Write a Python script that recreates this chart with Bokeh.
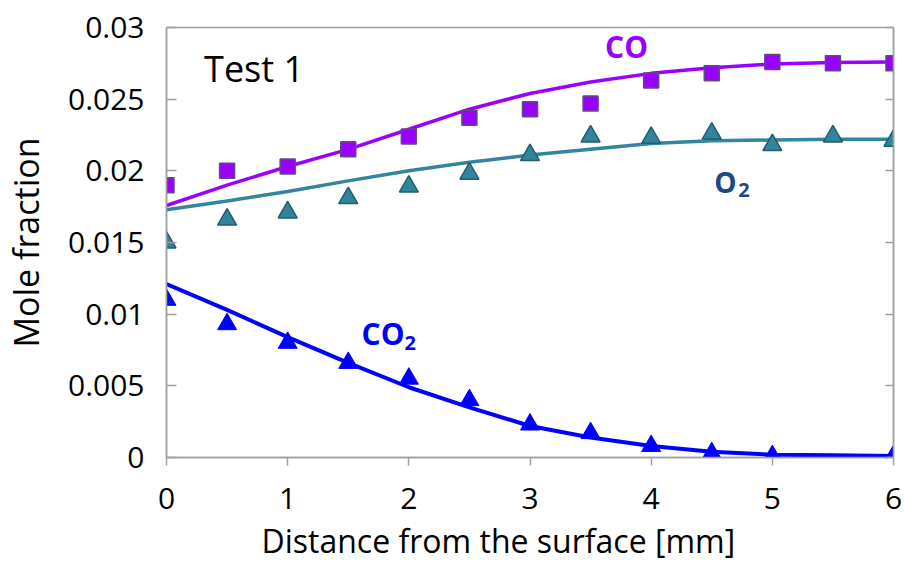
from bokeh.plotting import figure
from bokeh.models import (Range1d, LinearAxis, FixedTicker, CustomJSTickFormatter,
                          Label, Title, ColumnDataSource)
from bokeh.embed import file_html
from bokeh.resources import INLINE

# Measured mole fractions (markers)
x_meas = [0, 0.5, 1, 1.5, 2, 2.5, 3, 3.5, 4, 4.5, 5, 5.5, 6]
co_meas = [0.0190, 0.0200, 0.0203, 0.0215, 0.0224, 0.0237, 0.0243,
           0.0247, 0.0263, 0.0268, 0.0276, 0.0275, 0.0275]
o2_meas = [0.0150, 0.0166, 0.0171, 0.0181, 0.0189, 0.0198, 0.0211,
           0.0224, 0.0223, 0.0226, 0.0218, 0.0224, 0.0221]
x_co2_meas = [0, 0.5, 1, 1.5, 2, 2.5, 3, 3.5, 4, 4.5, 5, 6]
co2_meas = [0.0110, 0.0093, 0.0080, 0.0066, 0.0055, 0.0040, 0.0023,
            0.0017, 0.0008, 0.0003, 0.0001, 0.0001]

# Model profiles (solid curves)
x_model = [0, 0.5, 1, 1.5, 2, 2.5, 3, 3.5, 4, 4.5, 5, 5.5, 6]
co_model = [0.01758, 0.0190, 0.0203, 0.0215, 0.0229, 0.0243, 0.0254,
            0.0262, 0.0268, 0.0272, 0.02745, 0.02755, 0.0276]
o2_model = [0.01728, 0.0179, 0.01856, 0.0193, 0.0200, 0.0206, 0.0211,
            0.0215, 0.0219, 0.0221, 0.02215, 0.0222, 0.0222]
co2_model = [0.0121, 0.0103, 0.0084, 0.0066, 0.0049, 0.0035, 0.0022,
             0.0014, 0.0008, 0.0004, 0.0002, 0.00015, 0.0001]

x_ticks = [0, 1, 2, 3, 4, 5, 6]
y_ticks = [0, 0.005, 0.01, 0.015, 0.02, 0.025, 0.03]
x_title = "Distance from the surface [mm]"
y_title = "Mole fraction"

FONT = "Open Sans"
AXIS_GRAY = "#A0A0A0"

p = figure(width=904, height=566, output_backend="svg", toolbar_location=None,
           x_range=Range1d(0, 6), y_range=Range1d(0, 0.03),
           min_border_left=163, min_border_right=11,
           min_border_top=27, min_border_bottom=109)
p.background_fill_color = "white"
p.border_fill_color = "white"
p.grid.visible = False
p.outline_line_color = AXIS_GRAY
p.outline_line_width = 1.5

# Bottom axis
xa = p.xaxis[0]
xa.ticker = FixedTicker(ticks=x_ticks)
xa.major_label_text_font = FONT
xa.major_label_text_font_size = "30px"
xa.major_label_text_color = "black"
xa.major_label_standoff = 22
xa.major_tick_in = 0
xa.major_tick_out = 8
xa.minor_tick_line_color = None
xa.axis_line_color = AXIS_GRAY
xa.axis_line_width = 1.5
xa.major_tick_line_color = AXIS_GRAY
xa.major_tick_line_width = 1.5

# Horizontal axis title, set slightly left of the frame centre
p.add_layout(Title(text=x_title, align="left", offset=95, text_font=FONT,
                   text_font_size="32px", text_font_style="normal",
                   text_color="black", standoff=10), "below")

# Left axis
ya = p.yaxis[0]
ya.ticker = FixedTicker(ticks=y_ticks)
ya.formatter = CustomJSTickFormatter(code="return Number(tick.toFixed(3)).toString();")
ya.axis_label = y_title
ya.axis_label_text_font = FONT
ya.axis_label_text_font_size = "34px"
ya.axis_label_text_font_style = "normal"
ya.axis_label_text_color = "black"
ya.axis_label_standoff = 16
ya.major_label_text_font = FONT
ya.major_label_text_font_size = "30px"
ya.major_label_text_color = "black"
ya.major_label_standoff = 22
ya.major_tick_in = 10
ya.major_tick_out = 0
ya.minor_tick_line_color = None
ya.axis_line_color = AXIS_GRAY
ya.axis_line_width = 1.5
ya.major_tick_line_color = AXIS_GRAY
ya.major_tick_line_width = 1.5

# Right-hand tick marks on the frame
ra = LinearAxis(ticker=FixedTicker(ticks=y_ticks),
                formatter=CustomJSTickFormatter(code="return '';"))
ra.major_tick_in = 8
ra.major_tick_out = 0
ra.major_label_standoff = 0
ra.major_label_text_font_size = "0px"
ra.minor_tick_line_color = None
ra.axis_line_color = AXIS_GRAY
ra.axis_line_width = 1.5
ra.major_tick_line_color = AXIS_GRAY
ra.major_tick_line_width = 1.5
p.add_layout(ra, "right")

# Model curves
model = ColumnDataSource(dict(x=x_model, co=co_model, o2=o2_model, co2=co2_model))
p.line("x", "co", source=model, line_color="#9900FF", line_width=3.5)
p.line("x", "o2", source=model, line_color="#31859C", line_width=3.5)
p.line("x", "co2", source=model, line_color="#0000FF", line_width=4)

# Measurements
meas = ColumnDataSource(dict(x=x_meas, co=co_meas, o2=o2_meas))
meas_co2 = ColumnDataSource(dict(x=x_co2_meas, co2=co2_meas))
p.scatter("x", "co", source=meas, marker="square", size=15,
          fill_color="#9900FF", line_color="#5F4B80", line_width=1.5)
p.scatter("x", "o2", source=meas, marker="triangle", size=19,
          fill_color="#31849B", line_color="#1F5F70", line_width=1.5)
p.scatter("x", "co2", source=meas_co2, marker="triangle", size=19,
          fill_color="#0000FF", line_color="#0000FF", line_width=1)

# Annotations
def add_label(x, y, text, size, color, bold=False, dx=0, dy=0):
    p.add_layout(Label(x=x, y=y, text=text, x_offset=dx, y_offset=dy,
                       text_font=FONT, text_font_size=size, text_color=color,
                       text_font_style="bold" if bold else "normal",
                       text_baseline="alphabetic", text_align="left"))

add_label(0.31, 0.02616, "Test 1", "36px", "black", dy=14)
add_label(3.62, 0.02784, "CO", "30px", "#9900FF", bold=True, dy=12)
add_label(4.52, 0.01842, "O", "28px", "#1F497D", bold=True, dy=11)
add_label(4.52, 0.01842, "2", "20px", "#1F497D", bold=True, dx=24, dy=3)
add_label(1.61, 0.00788, "CO", "30px", "#0000FF", bold=True, dy=11)
add_label(1.61, 0.00788, "2", "20px", "#0000FF", bold=True, dx=43, dy=2)

open("out.html", "w").write(file_html(p, INLINE))
